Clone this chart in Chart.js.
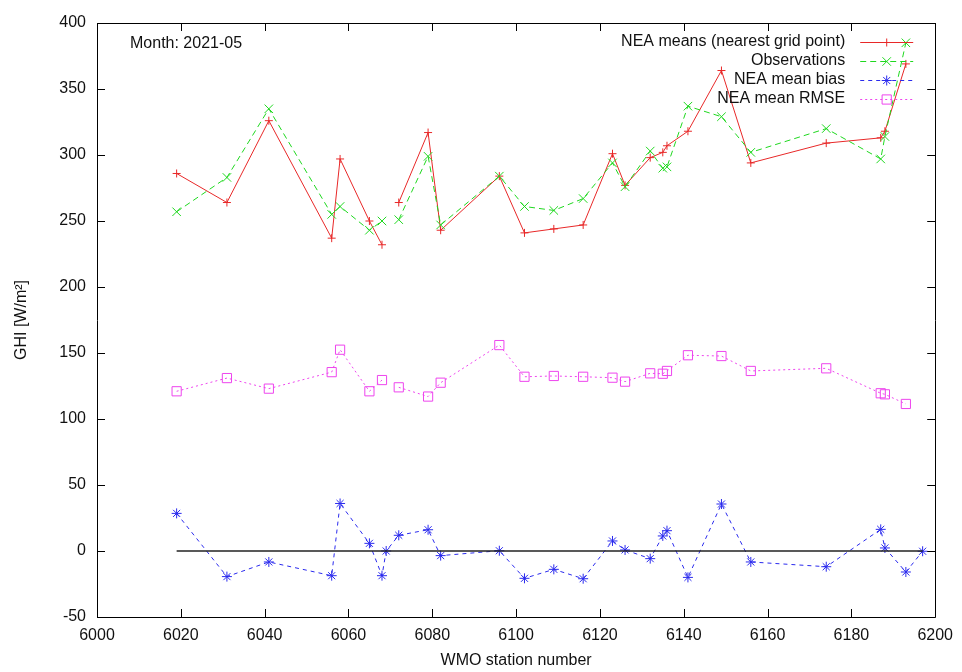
<!DOCTYPE html>
<html>
<head>
<meta charset="utf-8">
<script src="https://cdn.jsdelivr.net/npm/chart.js@4/dist/chart.umd.min.js"></script>
<style>
  body { margin: 0; background: #fff; }
  #wrap { width: 962px; height: 672px; }
</style>
</head>
<body>
<div id="wrap"><canvas id="ghiChart" width="962" height="672"></canvas></div>
<script>
// Datos (WMO station number -> GHI)
const stations = [6019, 6031, 6041, 6056, 6058, 6065, 6068, 6069, 6072, 6079, 6082, 6096, 6102, 6109,
                  6116, 6123, 6126, 6132, 6135, 6136, 6141, 6149, 6156, 6174, 6187, 6188, 6193, 6197];
const neaMeans = [286, 264, 326, 237, 297, 250, 232, null, 264, 317, 243, 284, 241, 244,
                  247, 301, 277, 298, 302, 307, 318, 364, 294, 309, 313, 318, 369, null];
const observations = [257, 283, 335, 255, 261, 243, 250, null, 251, 299, 247, 284, 261, 258,
                      267, 294, 276, 303, 290, 291, 337, 329, 302, 320, 297, 314, 385, null];
const meanBias = [28.5, -19.4, -8.3, -18.7, 36, 5.8, -18.7, 0, 11.9, 16.1, -3.5, 0.2, -20.7, -13.9,
                  -21, 7.6, 0.8, -5.8, 11.4, 15.4, -20, 35.6, -8.3, -11.9, 16.4, 2.3, -15.9, -0.2];
const meanRmse = [121, 131, 123, 135.5, 152.5, 121, 129.5, null, 124, 117, 127.5, 156, 132, 132.6,
                  132, 131.3, 128.3, 134.6, 134.3, 136.4, 148.3, 147.7, 136.4, 138.4, 119.5, 118.7, 111.4, null];

const xTicks = [6000, 6020, 6040, 6060, 6080, 6100, 6120, 6140, 6160, 6180, 6200];
const yTicks = [-50, 0, 50, 100, 150, 200, 250, 300, 350, 400];
const monthLabel = 'Month: 2021-05';

const FONT = '"Liberation Sans", Arial, Helvetica, sans-serif';
const RED = '#e82828';
const GREEN = '#1fd81f';
const BLUE = '#2a2aee';
const MAGENTA = '#ee44ee';

// convertir a puntos {x, y}
function toPoints(values) {
    return stations.map((s, i) => ({ x: s, y: values[i] }));
}

// marco y marcas hacia dentro (estilo gnuplot) + leyenda + texto del mes
const framePlugin = {
    id: 'frame',
    afterDraw(chart) {
        const ctx = chart.ctx;
        const a = chart.chartArea;
        const sx = chart.scales.x;
        const sy = chart.scales.y;
        const tl = 8;
        ctx.save();
        ctx.strokeStyle = '#000';
        ctx.lineWidth = 1;
        ctx.beginPath();
        ctx.rect(Math.round(a.left) + 0.5, Math.round(a.top) + 0.5,
                 Math.round(a.right - a.left), Math.round(a.bottom - a.top));
        xTicks.forEach(v => {
            const px = Math.round(sx.getPixelForValue(v)) + 0.5;
            ctx.moveTo(px, a.bottom); ctx.lineTo(px, a.bottom - tl);
            ctx.moveTo(px, a.top); ctx.lineTo(px, a.top + tl);
        });
        yTicks.forEach(v => {
            const py = Math.round(sy.getPixelForValue(v)) + 0.5;
            ctx.moveTo(a.left, py); ctx.lineTo(a.left + tl, py);
            ctx.moveTo(a.right, py); ctx.lineTo(a.right - tl, py);
        });
        ctx.stroke();

        // texto del mes
        ctx.fillStyle = '#111';
        ctx.font = '16px ' + FONT;
        ctx.textBaseline = 'middle';
        ctx.textAlign = 'left';
        ctx.fillText(monthLabel, a.left + 33, a.top + 21);

        // leyenda (texto alineado a la derecha, muestra a la derecha)
        const textRight = a.right - 90;
        const lineL = a.right - 75, lineR = a.right - 22;
        chart.data.datasets.slice(0, 4).forEach((ds, i) => {
            const y = a.top + 19 + i * 19;
            const color = ds.pointBorderColor;
            ctx.textAlign = 'right';
            ctx.fillStyle = '#111';
            ctx.fillText(ds.label, textRight, y);
            ctx.strokeStyle = color;
            ctx.lineWidth = 1;
            ctx.setLineDash(ds.borderDash || []);
            ctx.beginPath();
            ctx.moveTo(lineL, y + 0.5); ctx.lineTo(lineR, y + 0.5);
            ctx.stroke();
            ctx.setLineDash([]);
            if (Chart.helpers && Chart.helpers.drawPoint) {
                ctx.strokeStyle = color;
                ctx.fillStyle = 'rgba(0,0,0,0)';
                ctx.lineWidth = 1;
                Chart.helpers.drawPoint(ctx, {
                    pointStyle: ds.pointStyle, radius: ds.pointRadius,
                    rotation: 0, borderWidth: 1
                }, (lineL + lineR) / 2, y + 0.5);
            }
        });
        ctx.restore();
    }
};

const ctx = document.getElementById('ghiChart').getContext('2d');

const ghiChart = new Chart(ctx, {
    type: 'line',
    data: {
        datasets: [{
            label: 'NEA means (nearest grid point)',
            data: toPoints(neaMeans),
            borderColor: RED,
            borderWidth: 1,
            pointStyle: 'cross',
            pointRadius: 4,
            pointBorderWidth: 1,
            pointBorderColor: RED,
            order: 4
        }, {
            label: 'Observations',
            data: toPoints(observations),
            borderColor: GREEN,
            borderWidth: 1,
            borderDash: [6, 4],
            pointStyle: 'crossRot',
            pointRadius: 6,
            pointBorderWidth: 1,
            pointBorderColor: GREEN,
            order: 3
        }, {
            label: 'NEA mean bias',
            data: toPoints(meanBias),
            borderColor: BLUE,
            borderWidth: 1,
            borderDash: [4, 4],
            pointStyle: 'star',
            pointRadius: 5,
            pointBorderWidth: 1,
            pointBorderColor: BLUE,
            order: 2
        }, {
            label: 'NEA mean RMSE',
            data: toPoints(meanRmse),
            borderColor: MAGENTA,
            borderWidth: 1,
            borderDash: [2, 3],
            pointStyle: 'rect',
            pointRadius: 6.5,
            pointBorderWidth: 1,
            pointBorderColor: MAGENTA,
            pointBackgroundColor: 'rgba(0,0,0,0)',
            order: 1
        }, {
            label: 'zero',
            data: [{ x: stations[0], y: 0 }, { x: stations[stations.length - 1], y: 0 }],
            borderColor: '#222',
            borderWidth: 1.5,
            pointRadius: 0,
            order: 0
        }]
    },
    options: {
        responsive: false,
        animation: false,
        spanGaps: false,
        layout: { padding: { top: 23, right: 25, left: 0, bottom: 0 } },
        plugins: {
            legend: { display: false },
            tooltip: { enabled: false }
        },
        scales: {
            x: {
                type: 'linear',
                min: 6000,
                max: 6200,
                afterBuildTicks: s => { s.ticks = xTicks.map(v => ({ value: v })); },
                afterFit: s => { s.height = 55; },
                grid: { display: false, drawTicks: false },
                border: { display: false },
                ticks: { color: '#111', font: { family: FONT, size: 16 }, padding: 9, maxRotation: 0,
                         callback: v => String(v) },
                title: { display: true, text: 'WMO station number', color: '#111',
                         font: { family: FONT, size: 16 }, padding: { top: 0, bottom: 2 } }
            },
            y: {
                type: 'linear',
                min: -50,
                max: 400,
                afterBuildTicks: s => { s.ticks = yTicks.map(v => ({ value: v })); },
                afterFit: s => { s.width = 97; },
                grid: { display: false, drawTicks: false },
                border: { display: false },
                ticks: { color: '#111', font: { family: FONT, size: 16 }, padding: 11,
                         callback: v => String(v) },
                title: { display: true, text: 'GHI [W/m²]', color: '#111',
                         font: { family: FONT, size: 16 }, padding: { top: 12, bottom: 0 } }
            }
        }
    },
    plugins: [framePlugin]
});
</script>
</body>
</html>
